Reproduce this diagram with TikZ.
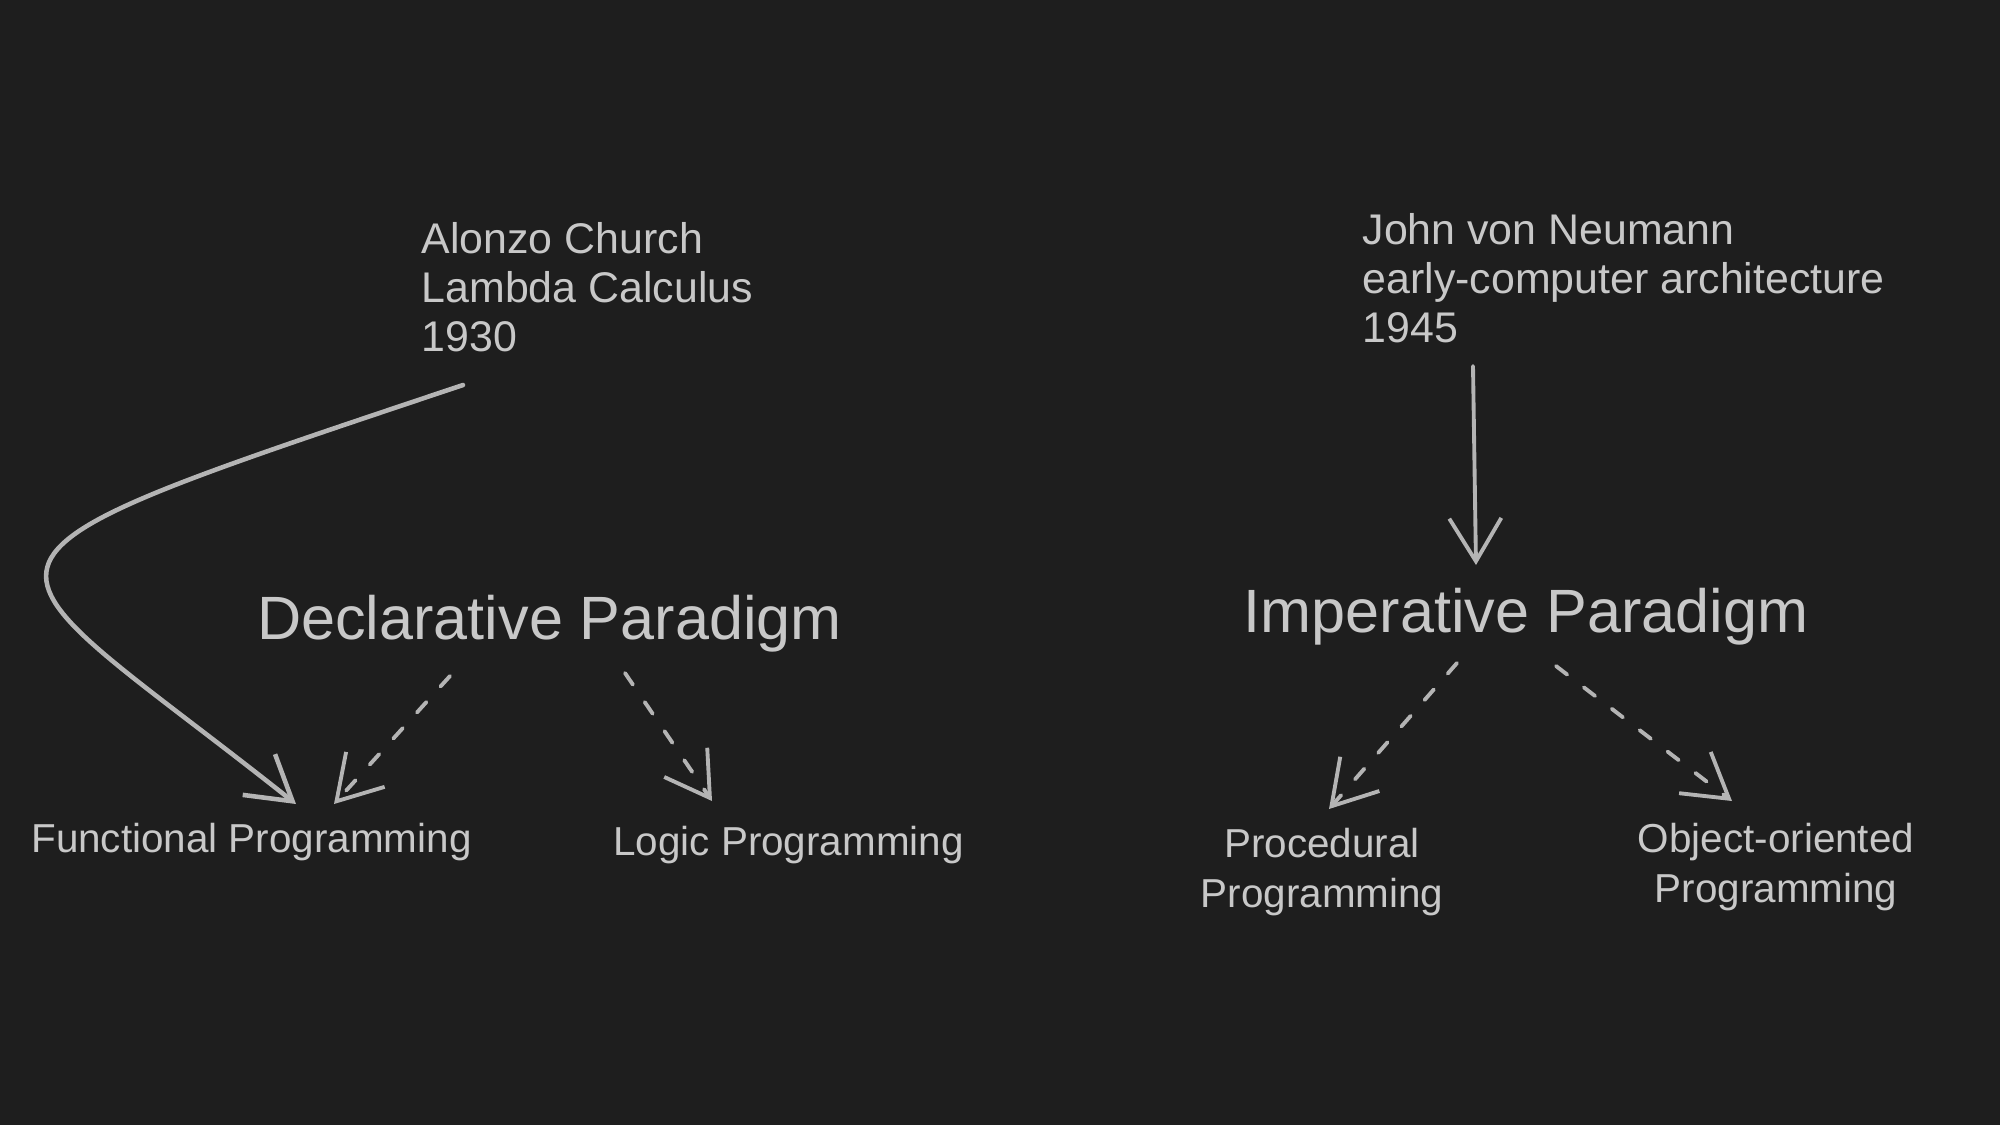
\documentclass[tikz,border=0pt]{standalone}
\usepackage{fontspec}
\setmainfont{Liberation Sans}
\usetikzlibrary{arrows.meta, positioning, calc}

\definecolor{canvas}{HTML}{1E1E1E}
\definecolor{inkgray}{HTML}{C8C8C8}
\definecolor{linegray}{HTML}{B4B4B4}

\begin{document}
\begin{tikzpicture}[
        note/.style={text=inkgray, inner sep=0pt, align=left, anchor=west, font=\fontsize{12.2}{13.94}\selectfont},
        para/.style={text=inkgray, inner sep=0pt, font=\fontsize{17.4}{20}\selectfont},
        leaf/.style={text=inkgray, inner sep=0pt, align=center, font=\fontsize{11.5}{14.4}\selectfont},
        link/.style={-{Straight Barb[length=4.3mm, width=5.2mm]}, line width=1.1pt, draw=linegray, line cap=round},
        sub/.style={link, dash pattern=on 4pt off 6pt}
    ]
        \fill[canvas] (0,0) rectangle (20,-11.25);
        \useasboundingbox (0,0) rectangle (20,-11.25);

        \node[note] (church) at (4.21, -2.87) {Alonzo Church\\Lambda Calculus\\1930};
        \node[note] (neumann) at (13.62, -2.78) {John von Neumann\\early-computer architecture\\1945};

        \node[para] (decl) at (5.495, -6.24) {Declarative Paradigm};
        \node[para] (imper) at (15.26, -6.17) {Imperative Paradigm};

        \node[leaf] (func) at (2.515, -8.42) {Functional Programming};
        \node[leaf] (logic) at (7.885, -8.45) {Logic Programming};
        \node[leaf] (proc) at (13.22, -8.72) {Procedural\\Programming};
        \node[leaf] (oop) at (17.76, -8.67) {Object-oriented\\Programming};

        \draw[link, line width=1.3pt] ([xshift=0.42cm, yshift=-0.98cm]church.west) .. controls (-0.95, -5.72) and (-0.3, -5.45) .. ([xshift=0.445cm, yshift=0.38cm]func.center);
        \draw[sub] ([xshift=-0.995cm, yshift=-0.52cm]decl.center) -- ([xshift=0.825cm, yshift=0.38cm]func.center);
        \draw[sub] ([xshift=0.755cm, yshift=-0.49cm]decl.center) -- ([xshift=-0.765cm, yshift=0.44cm]logic.center);

        \draw[link] ([xshift=1.11cm, yshift=-0.88cm]neumann.west) -- ([xshift=-0.5cm, yshift=0.52cm]imper.center);
        \draw[sub] ([xshift=-0.69cm, yshift=-0.46cm]imper.center) -- ([xshift=0.07cm, yshift=0.63cm]proc.center);
        \draw[sub] ([xshift=0.3cm, yshift=-0.49cm]imper.center) -- ([xshift=-0.44cm, yshift=0.66cm]oop.center);
    \end{tikzpicture}
\end{document}
